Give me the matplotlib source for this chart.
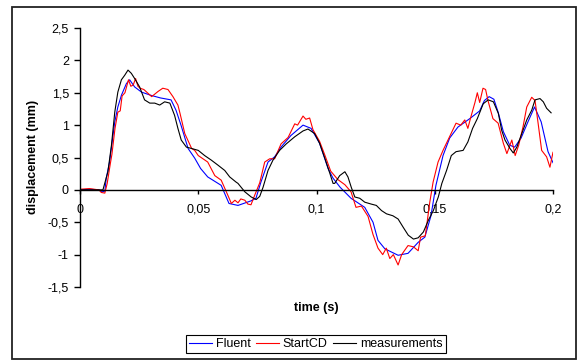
import matplotlib
matplotlib.use("Agg")
import matplotlib.pyplot as plt
from matplotlib.patches import Rectangle
from matplotlib.ticker import FuncFormatter, MultipleLocator

plt.rcParams['font.family'] = ['Liberation Sans', 'DejaVu Sans']

# Fluent (blue)
t_fluent = [0, 0.004, 0.008, 0.0095, 0.0105, 0.0111, 0.0125, 0.0147, 0.016, 0.0175,
            0.0196, 0.021, 0.0231, 0.026, 0.030, 0.034, 0.0385, 0.0406, 0.0427, 0.0457,
            0.0485, 0.051, 0.054, 0.0597, 0.063, 0.0668, 0.0723, 0.0744, 0.0765, 0.0795,
            0.0823, 0.085, 0.0892, 0.0943, 0.0977, 0.1013, 0.1049, 0.107, 0.110, 0.1146,
            0.1204, 0.1239, 0.126, 0.1289, 0.1345, 0.1387, 0.143, 0.1458, 0.1484, 0.1505,
            0.1535, 0.1563, 0.1598, 0.1648, 0.169, 0.171, 0.173, 0.175, 0.1768, 0.179,
            0.1817, 0.1838, 0.1865, 0.1894, 0.1922, 0.195, 0.1979, 0.2]
fluent = [0.0, 0.01, 0.0, -0.03, -0.02, 0.18, 0.43, 1.05, 1.28, 1.46,
          1.64, 1.70, 1.59, 1.51, 1.46, 1.42, 1.39, 1.23, 1.0, 0.64,
          0.49, 0.33, 0.2, 0.07, -0.21, -0.24, -0.17, -0.13, 0.12, 0.43,
          0.51, 0.66, 0.84, 1.0, 0.95, 0.72, 0.33, 0.18, 0.04, -0.13,
          -0.27, -0.5, -0.78, -0.91, -1.01, -0.98, -0.81, -0.73, -0.4, 0.07,
          0.53, 0.8, 0.97, 1.1, 1.22, 1.38, 1.44, 1.4, 1.2, 0.9,
          0.69, 0.66, 0.8, 1.05, 1.28, 1.05, 0.59, 0.42]

# StartCD (red)
t_startcd = [0, 0.004, 0.008, 0.009, 0.0105, 0.0115, 0.0128, 0.0135, 0.0148, 0.016,
             0.017, 0.0178, 0.019, 0.0205, 0.0215, 0.0225, 0.0235, 0.0245, 0.0254, 0.027,
             0.0303, 0.033, 0.035, 0.0372, 0.0393, 0.0414, 0.0423, 0.0443, 0.0472, 0.0485,
             0.05, 0.054, 0.057, 0.0597, 0.0626, 0.064, 0.0655, 0.0668, 0.068, 0.0697,
             0.071, 0.0723, 0.0739, 0.076, 0.0781, 0.0802, 0.0823, 0.085, 0.088, 0.0908,
             0.092, 0.0943, 0.0955, 0.0971, 0.0985, 0.1013, 0.1035, 0.106, 0.109, 0.112,
             0.1146, 0.1167, 0.119, 0.1218, 0.1239, 0.126, 0.127, 0.128, 0.1295, 0.131,
             0.1325, 0.1345, 0.136, 0.1387, 0.141, 0.143, 0.144, 0.146, 0.1479, 0.1493,
             0.1514, 0.1535, 0.1556, 0.159, 0.161, 0.1627, 0.164, 0.1653, 0.167, 0.168,
             0.169, 0.1704, 0.1715, 0.1725, 0.1746, 0.1768, 0.179, 0.1805, 0.1826, 0.184,
             0.1855, 0.1873, 0.1889, 0.191, 0.1924, 0.1937, 0.1952, 0.1973, 0.1987, 0.2]
startcd = [0.01, 0.02, 0.0, -0.04, -0.05, 0.1, 0.4, 0.55, 0.95, 1.2,
           1.22, 1.45, 1.5, 1.7, 1.6, 1.62, 1.72, 1.6, 1.57, 1.55,
           1.44, 1.52, 1.57, 1.55, 1.44, 1.31, 1.18, 0.87, 0.64, 0.61,
           0.53, 0.43, 0.22, 0.15, -0.09, -0.21, -0.16, -0.2, -0.14, -0.16,
           -0.22, -0.23, -0.08, 0.11, 0.43, 0.48, 0.48, 0.71, 0.81, 1.02,
           1.0, 1.14, 1.09, 1.11, 0.93, 0.75, 0.54, 0.29, 0.16, 0.08,
           -0.03, -0.27, -0.25, -0.41, -0.69, -0.9, -0.95, -1.0, -0.9, -1.06,
           -1.0, -1.16, -1.0, -0.86, -0.88, -0.94, -0.73, -0.71, -0.19, 0.12,
           0.43, 0.61, 0.77, 1.03, 1.0, 1.08, 0.95, 1.13, 1.35, 1.5,
           1.35, 1.57, 1.55, 1.38, 1.1, 1.03, 0.72, 0.56, 0.77, 0.53,
           0.69, 0.97, 1.28, 1.43, 1.38, 1.03, 0.61, 0.51, 0.35, 0.58]

# measurements (black)
t_meas = [0, 0.009, 0.0097, 0.0118, 0.0133, 0.0147, 0.016, 0.0175, 0.0189, 0.0203,
          0.0217, 0.0231, 0.0252, 0.0273, 0.0295, 0.0316, 0.0337, 0.0358, 0.038, 0.04,
          0.0414, 0.0428, 0.045, 0.0471, 0.05, 0.0527, 0.0555, 0.0584, 0.0612, 0.0633,
          0.066, 0.0668, 0.0697, 0.0724, 0.0745, 0.076, 0.0774, 0.0795, 0.0816, 0.0844,
          0.0872, 0.0908, 0.0943, 0.0964, 0.0992, 0.1013, 0.1035, 0.1056, 0.107, 0.1077,
          0.1098, 0.112, 0.1133, 0.1147, 0.1162, 0.1183, 0.1204, 0.1232, 0.1253, 0.1275,
          0.1296, 0.1323, 0.1345, 0.1367, 0.1388, 0.141, 0.143, 0.1452, 0.1473, 0.1494,
          0.1515, 0.153, 0.155, 0.157, 0.159, 0.162, 0.164, 0.166, 0.168, 0.1705,
          0.1726, 0.1748, 0.1769, 0.1783, 0.1797, 0.1818, 0.1832, 0.1847, 0.1868, 0.1889,
          0.191, 0.1924, 0.1945, 0.1959, 0.1973, 0.1992]
meas = [0.0, 0.0, 0.0, 0.28, 0.69, 1.2, 1.51, 1.7, 1.77, 1.85,
        1.8, 1.72, 1.59, 1.39, 1.34, 1.34, 1.31, 1.36, 1.34, 1.15,
        0.95, 0.77, 0.66, 0.64, 0.61, 0.53, 0.46, 0.38, 0.3, 0.2,
        0.12, 0.1, -0.03, -0.11, -0.15, -0.1, 0.04, 0.3, 0.46, 0.61,
        0.71, 0.82, 0.91, 0.94, 0.87, 0.72, 0.49, 0.26, 0.1, 0.1,
        0.22, 0.28, 0.2, 0.04, -0.11, -0.13, -0.19, -0.22, -0.24, -0.32,
        -0.37, -0.4, -0.45, -0.58, -0.7, -0.76, -0.74, -0.65, -0.47, -0.32,
        -0.11, 0.1, 0.3, 0.53, 0.59, 0.61, 0.74, 0.95, 1.1, 1.33,
        1.39, 1.36, 1.18, 0.92, 0.77, 0.64, 0.57, 0.66, 0.87, 1.08,
        1.23, 1.39, 1.41, 1.36, 1.26, 1.19]

fig = plt.figure(figsize=(5.81, 3.6), dpi=100)
ax = fig.add_axes([80/581, 1-287/360, 473/581, 259/360])

ax.plot(t_fluent, fluent, color='#0000ff', lw=0.8, label='Fluent')
ax.plot(t_startcd, startcd, color='#ff0000', lw=0.8, label='StartCD')
ax.plot(t_meas, meas, color='#000000', lw=0.8, label='measurements')

ax.set_xlim(0, 0.2)
ax.set_ylim(-1.5, 2.5)
ax.xaxis.set_major_locator(MultipleLocator(0.05))
ax.yaxis.set_major_locator(MultipleLocator(0.5))
fmt = FuncFormatter(lambda v, p: f"{v:g}".replace('.', ','))
ax.xaxis.set_major_formatter(fmt)
ax.yaxis.set_major_formatter(fmt)

for s in ['top', 'right']:
    ax.spines[s].set_visible(False)
ax.spines['bottom'].set_position(('data', 0))
ax.spines['left'].set_linewidth(1.0)
ax.spines['bottom'].set_linewidth(1.0)
ax.tick_params(axis='y', direction='out', length=4, width=1, pad=4, labelsize=9)
ax.tick_params(axis='x', direction='out', length=3, width=1, pad=7, labelsize=9)

fig.text(316/581, 1-308/360, 'time (s)', ha='center', va='center',
         fontsize=9, fontweight='bold')
fig.text(33/581, 1-157/360, 'displacement (mm)', ha='center', va='center',
         rotation=90, fontsize=9, fontweight='bold')

leg = fig.legend(loc='center', bbox_to_anchor=(315.5/581, 1-344/360), ncol=3,
                 fontsize=9, frameon=True, fancybox=False, edgecolor='black',
                 framealpha=1, handlelength=1.85, handletextpad=0.32,
                 columnspacing=0.4, borderpad=0.25, borderaxespad=0)
leg.get_frame().set_linewidth(0.8)

fig.patches.append(Rectangle((12/581, 1-359/360), 564/581, 352/360,
                             transform=fig.transFigure, fill=False,
                             edgecolor='#222222', lw=1.3))

fig.savefig('out.png', dpi=100)
